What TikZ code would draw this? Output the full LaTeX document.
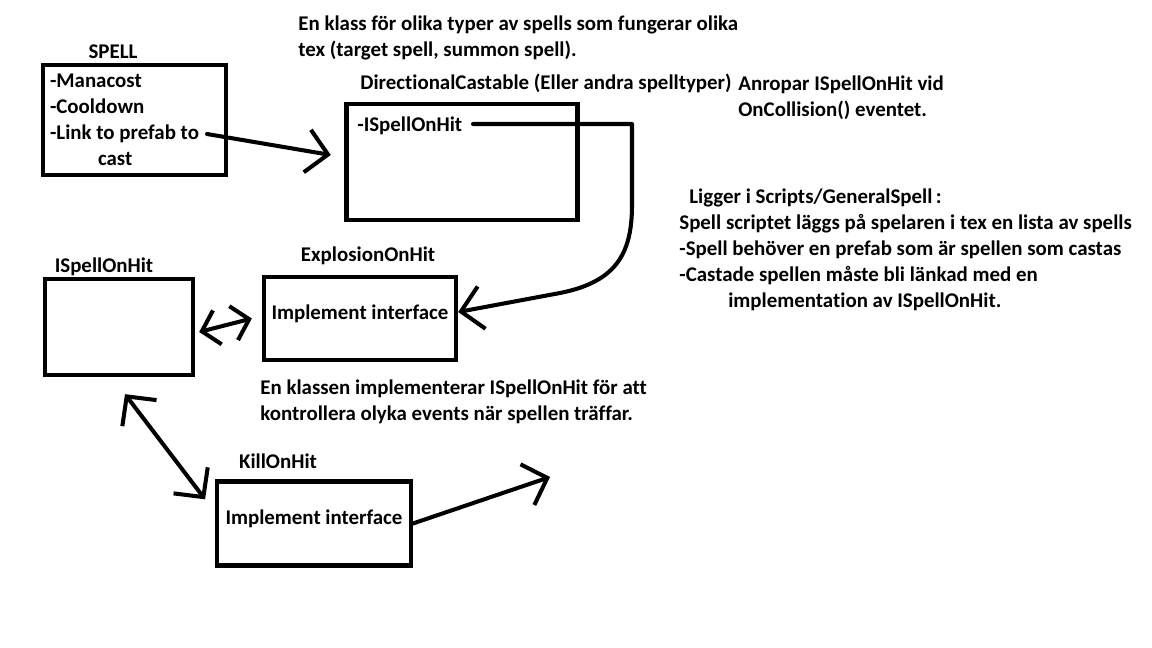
\documentclass[tikz,border=0pt]{standalone}
\usepackage{fontspec}
\setmainfont{Carlito}[Ligatures=NoCommon]
\usetikzlibrary{arrows.meta}

\begin{document}
\begin{tikzpicture}[x=0.02cm,y=-0.02cm,
		font=\bfseries\fontsize{11.9}{14.74}\selectfont,
		every node/.style={inner sep=0pt},
		box/.style={draw,line width=2.5pt},
		implbox/.style={text height=0.3cm,text depth=0.28cm},
		conn/.style={line width=2.3pt,line cap=round,line join=round},
		barb/.style={-{Straight Barb[length=0.42cm,width=0.86cm]}},
		twobarb/.style={{Straight Barb[length=0.42cm,width=0.86cm]}-{Straight Barb[length=0.42cm,width=0.86cm]}},
		smallbarb/.style={{Straight Barb[length=0.32cm,width=0.7cm]}-{Straight Barb[length=0.32cm,width=0.7cm]}}]
		\useasboundingbox (0,0) rectangle (1152,648);

		% SPELL
		\node (spelltitle) at (113,52) {SPELL};
		\node[box,minimum width=3.66cm,minimum height=2.2cm,text width=3.38cm,align=flush left] (spell) at (134.5,120)
			{-Manacost\\-Cooldown\\-Link to prefab to\\\hspace*{0.96cm}cast};
		\coordinate (spellout) at (207,134);

		% DirectionalCastable
		\node[anchor=west,align=left] (note) at (298,38) {En klass för olika typer av spells som fungerar olika\\tex (target spell, summon spell).};
		\node[anchor=west] (dctitle) at (360,83) {DirectionalCastable (Eller andra spelltyper)};
		\node[box,minimum width=4.62cm,minimum height=2.31cm] (dircast) at (462,162) {};
		\node[anchor=west] (dcfield) at (357,126) {-ISpellOnHit};
		\coordinate (dcout) at (473,124);
		\node[anchor=west,align=left] (callnote) at (738,98) {Anropar ISpellOnHit vid\\OnCollision() eventet.};

		% Scripts note
		\node[anchor=west,align=left] (scriptnote) at (679,250)
			{\hspace*{0.2cm}Ligger i Scripts/GeneralSpell\,:\\
			Spell scriptet läggs på spelaren i tex en lista av spells\\
			-Spell behöver en prefab som är spellen som castas\\
			-Castade spellen måste bli länkad med en\\
			\hspace*{0.98cm}implementation av ISpellOnHit.};

		% ISpellOnHit and implementations
		\node (ispelltitle) at (104,267) {ISpellOnHit};
		\node[box,minimum width=2.96cm,minimum height=1.92cm] (ispell) at (119,327) {};
		\node (expltitle) at (368,256) {ExplosionOnHit};
		\node[box,implbox,minimum width=3.84cm,minimum height=1.66cm] (expl) at (360,318.5) {Implement interface};
		\node[anchor=west,align=left] (explnote) at (260,402) {En klassen implementerar ISpellOnHit för att\\kontrollera olyka events när spellen träffar.};
		\node (killtitle) at (278,461) {KillOnHit};
		\node[box,implbox,minimum width=3.87cm,minimum height=1.68cm] (kill) at (314,523.5) {Implement interface};
		\coordinate (killout) at (550,477);

		% Connectors
		\draw[conn,barb] (spellout) -- ([shift={(-0.27cm,0.14cm)}]dircast.west);
		\draw[conn,barb] (dcout) -- (632,124) -- (632,205) .. controls (632,255) and (615,282) .. (560,293)
			-- ([yshift=0.13cm]expl.east);
		\draw[conn,smallbarb] ([shift={(0.08cm,-0.1cm)}]ispell.east) -- ([xshift=-0.2cm]expl.west);
		\draw[conn,twobarb] ([shift={(0.12cm,-0.34cm)}]ispell.south) -- ([shift={(-0.2cm,-0.4cm)}]kill.north west);
		\draw[conn,barb] (kill.east) -- (killout);
	\end{tikzpicture}
\end{document}
